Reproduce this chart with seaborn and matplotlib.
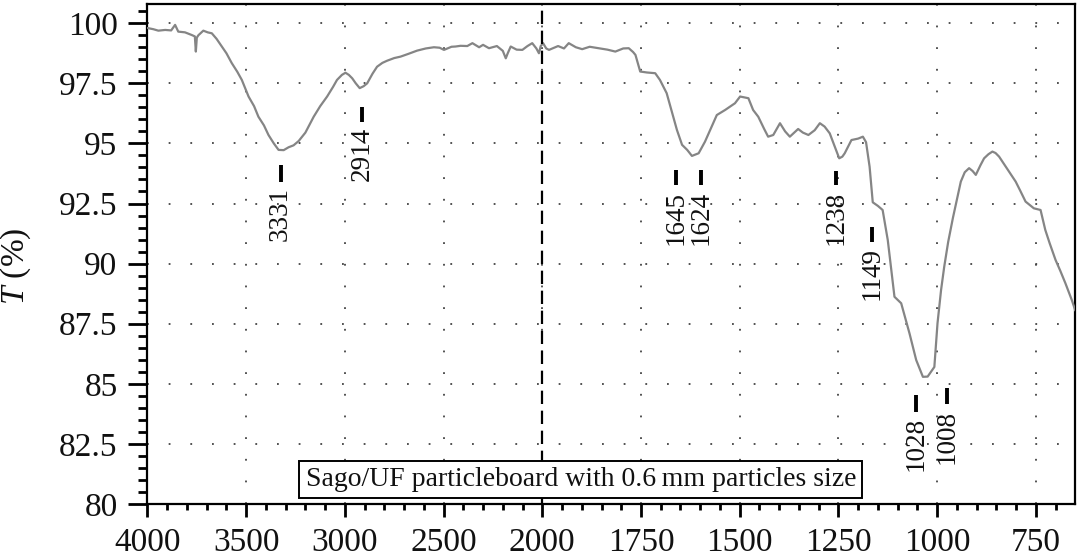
import numpy as np
import pandas as pd
import matplotlib
matplotlib.use("Agg")
import matplotlib.pyplot as plt
import seaborn as sns
from matplotlib.ticker import FixedLocator
from matplotlib.transforms import offset_copy

# FTIR spectrum: wavenumber (cm^-1) and transmittance (%)
wavenumber = [
    4000, 3970, 3945, 3910, 3880, 3860, 3844, 3810, 3776, 3760, 3755, 3750, 3742, 3717,
    3695, 3674, 3650, 3623, 3600, 3573, 3545, 3522, 3488, 3460, 3438, 3410, 3387, 3360,
    3336, 3310, 3285, 3260, 3234, 3200, 3158, 3125, 3090, 3060, 3040, 3015, 2997, 2980,
    2963, 2945, 2925, 2905, 2887, 2860, 2837, 2810, 2786, 2750, 2718, 2680, 2634, 2590,
    2549, 2520, 2498, 2460, 2440, 2414, 2380, 2354, 2320, 2300, 2270, 2230, 2200, 2185,
    2175, 2160, 2130, 2101, 2075, 2051, 2030, 2017, 2008, 1998, 1990, 1983, 1960, 1945,
    1933, 1915, 1899, 1880, 1857, 1835, 1815, 1795, 1781, 1770, 1764, 1752, 1735, 1714,
    1702, 1685, 1672, 1659, 1646, 1633, 1621, 1604, 1588, 1571, 1558, 1537, 1512, 1499,
    1478, 1466, 1453, 1438, 1428, 1415, 1398, 1385, 1373, 1352, 1340, 1326, 1310, 1297,
    1285, 1272, 1260, 1248, 1240, 1234, 1217, 1200, 1188, 1180, 1171, 1163, 1150, 1138,
    1125, 1115, 1108, 1091, 1080, 1070, 1053, 1036, 1024, 1007, 999, 990, 982, 972,
    960, 952, 940, 930, 919, 910, 902, 890, 881, 870, 860, 852, 843, 826,
    815, 801, 790, 776, 755, 738, 726, 715, 700, 688, 675, 659, 650,
]
transmittance = [
    99.80, 99.75, 99.69, 99.72, 99.70, 99.93, 99.65, 99.62, 99.51, 99.45, 98.82, 99.40, 99.50, 99.69,
    99.62, 99.58, 99.35, 99.03, 98.75, 98.34, 97.98, 97.64, 96.95, 96.55, 96.11, 95.75, 95.35, 95.00,
    94.73, 94.72, 94.84, 94.92, 95.10, 95.45, 96.11, 96.55, 96.95, 97.35, 97.64, 97.85, 97.94, 97.85,
    97.71, 97.50, 97.30, 97.38, 97.50, 97.90, 98.19, 98.35, 98.44, 98.55, 98.61, 98.72, 98.86, 98.95,
    99.00, 98.98, 98.89, 99.02, 99.03, 99.06, 99.05, 99.17, 99.00, 99.10, 98.96, 99.05, 98.85, 98.54,
    98.75, 99.03, 98.90, 98.89, 99.05, 99.17, 98.95, 98.75, 99.05, 99.17, 98.95, 98.89, 99.05, 98.95,
    99.17, 99.00, 98.92, 99.02, 98.96, 98.90, 98.82, 98.95, 98.96, 98.80, 98.68, 97.99, 97.95, 97.92,
    97.64, 97.09, 96.32, 95.56, 94.94, 94.73, 94.48, 94.59, 95.07, 95.70, 96.18, 96.39, 96.67, 96.95,
    96.88, 96.39, 96.11, 95.60, 95.28, 95.35, 95.84, 95.50, 95.28, 95.60, 95.45, 95.35, 95.55, 95.84,
    95.70, 95.42, 94.90, 94.38, 94.45, 94.59, 95.14, 95.20, 95.28, 95.05, 94.03, 92.55, 92.40, 92.23,
    90.98, 89.60, 88.62, 88.35, 87.70, 87.10, 85.99, 85.29, 85.30, 85.70, 87.52, 88.90, 89.87, 90.90,
    91.90, 92.51, 93.41, 93.80, 93.97, 93.85, 93.69, 94.10, 94.38, 94.55, 94.66, 94.60, 94.45, 94.03,
    93.75, 93.41, 93.05, 92.58, 92.30, 92.23, 91.40, 90.85, 90.15, 89.70, 89.18, 88.49, 88.05,
]

# Labelled absorption bands
peak_wn = [3331, 2914, 1645, 1624, 1238, 1149, 1028, 1008]
bar_top = [94.10, 96.53, 93.90, 93.90, 93.85, 91.54, 84.53, 84.81]
bar_bottom = [93.40, 95.90, 93.27, 93.27, 93.27, 90.91, 83.84, 84.16]
label_shift_px = [1, 0, -6, 10, -7, -6, -10, 13]

x_major = [4000, 3500, 3000, 2500, 2000, 1750, 1500, 1250, 1000, 750]
x_labels = ["4000", "3500", "3000", "2500", "2000", "1750", "1500", "1250", "1000", "750"]
y_major = [80, 82.5, 85, 87.5, 90, 92.5, 95, 97.5, 100]
y_labels = ["80", "82.5", "85", "87.5", "90", "92.5", "95", "97.5", "100"]

caption = "Sago/UF particleboard with 0.6\u2009mm particles size"

sns.set_theme(style="ticks")
plt.rcParams["font.family"] = ["Liberation Serif", "DejaVu Serif"]
plt.rcParams["mathtext.fontset"] = "custom"
plt.rcParams["mathtext.it"] = "Liberation Serif:italic"
plt.rcParams["mathtext.rm"] = "Liberation Serif"

fig = plt.figure(figsize=(10.78, 5.6), dpi=100)
ax = fig.add_axes([0.1368, 0.100, 0.9975 - 0.1368, 0.9929 - 0.100])

# Wavenumber axis: below 2000 cm^-1 the scale is stretched by a factor of two
def fwd(x):
    x = np.asarray(x, dtype=float)
    return np.where(x >= 2000, x, 2000 - 2.0 * (2000 - x))

def inv(u):
    u = np.asarray(u, dtype=float)
    return np.where(u >= 2000, u, 2000 - (2000 - u) / 2.0)

ax.set_xscale("function", functions=(fwd, inv))

df = pd.DataFrame({"wavenumber": wavenumber, "T": transmittance})
sns.lineplot(data=df, x="wavenumber", y="T", sort=False, ax=ax,
             color="#858585", lw=1.6, zorder=3)

ax.set_xlim(4000, 650)
ax.set_ylim(80, 100.8)

ax.set_xticks(x_major, labels=x_labels)
x_minor = [w for w in range(3900, 2000, -100)] + [w for w in range(1950, 650, -50)]
ax.xaxis.set_minor_locator(FixedLocator([w for w in x_minor if w not in x_major]))
ax.set_yticks(y_major, labels=y_labels)
y_minor = [v / 2 for v in range(160, 202) if (v / 2) not in y_major]
ax.yaxis.set_minor_locator(FixedLocator(y_minor))

ax.tick_params(axis="both", which="both", direction="out", color="black", width=2.0,
               labelsize=24, labelcolor="#111111")
ax.tick_params(axis="y", which="major", length=13.5, pad=8)
ax.tick_params(axis="y", which="minor", length=6.5)
ax.tick_params(axis="x", which="major", length=9, pad=8)
ax.tick_params(axis="x", which="minor", length=4.5)

for s in ax.spines.values():
    s.set_color("black")
    s.set_linewidth(1.6)

ax.grid(True, which="major", color="#444444", linewidth=1.3, linestyle=(0, (1, 11)))

ax.axvline(2000, color="black", lw=1.6, linestyle=(0, (6, 3)), zorder=4)

ax.set_xlabel("")
ax.set_ylabel("$T$ (%)", fontsize=24, color="#111111")
ax.yaxis.set_label_coords(-0.123, 0.476)

# Band markers and labels
for wn, top, bot, dx in zip(peak_wn, bar_top, bar_bottom, label_shift_px):
    tr = offset_copy(ax.transData, fig=fig, x=dx, y=0, units="dots")
    ax.plot([wn, wn], [top, bot], color="black", lw=2.8, solid_capstyle="butt",
            transform=tr, zorder=5)
    ax.annotate(str(wn), xy=(wn, bot), xycoords=tr, xytext=(0, -4),
                textcoords="offset points", rotation=90, ha="center", va="top",
                fontsize=19.5, color="#111111", zorder=5)

ax.text(0.467, 0.049, caption, transform=ax.transAxes, ha="center", va="center",
        fontsize=20, color="#111111", zorder=6,
        bbox=dict(boxstyle="square,pad=0.22", facecolor="white", edgecolor="black", lw=1.4))

fig.savefig("out.png", dpi=100)
